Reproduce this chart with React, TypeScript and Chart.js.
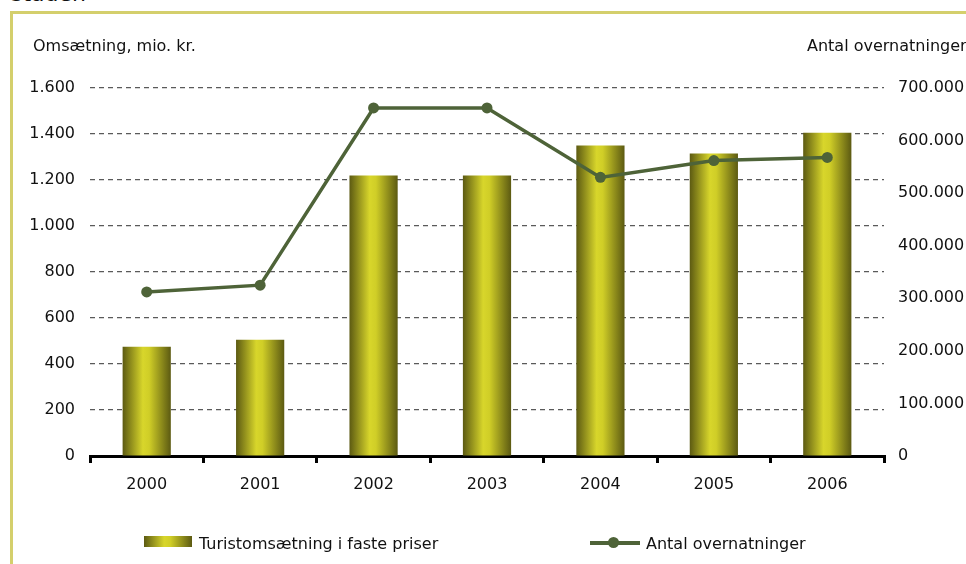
import React, { useEffect, useRef } from "react";
import { Chart, registerables } from "chart.js";

Chart.register(...registerables);

const years = ["2000", "2001", "2002", "2003", "2004", "2005", "2006"];
const turnover = [475, 505, 1220, 1220, 1350, 1315, 1405];
const overnights = [312000, 325000, 662000, 662000, 530000, 562000, 568000];
const leftMax = 1600;
const leftStep = 200;
const rightMax = 700000;
const rightStep = 100000;

const title = "staden";
const leftTitle = "Omsætning, mio. kr.";
const rightTitle = "Antal overnatninger";
const barLabel = "Turistomsætning i faste priser";
const lineLabel = "Antal overnatninger";

const FONT = "'DejaVu Sans', sans-serif";
const LINE_COLOR = "#4e6338";
const DARK = "#5c5a12";
const BRIGHT = "#d8d62b";
const BAR_PCT = 0.425;

const fmt = (v: number) => String(Math.round(v)).replace(/\B(?=(\d{3})+(?!\d))/g, ".");

export default function App() {
  const ref = useRef<HTMLCanvasElement | null>(null);

  useEffect(() => {
    if (!ref.current) return;
    const font = { family: FONT, size: 16 };
    const chart = new Chart(ref.current, {
      data: {
        labels: years,
        datasets: [
          {
            type: "line",
            label: lineLabel,
            data: overnights,
            yAxisID: "y1",
            borderColor: LINE_COLOR,
            backgroundColor: LINE_COLOR,
            borderWidth: 3.5,
            pointRadius: 5.5,
            pointBorderWidth: 0,
            pointBackgroundColor: LINE_COLOR,
            tension: 0,
            order: 0,
          },
          {
            type: "bar",
            label: barLabel,
            data: turnover,
            yAxisID: "y",
            order: 1,
            categoryPercentage: 1,
            barPercentage: BAR_PCT,
            backgroundColor: (ctx: any) => {
              const ch = ctx.chart;
              const xs = ch.scales && ch.scales.x;
              if (!xs || ctx.dataIndex === undefined) return BRIGHT;
              const cx = xs.getPixelForValue(ctx.dataIndex);
              const w = (xs.width / years.length) * BAR_PCT;
              if (!Number.isFinite(cx) || !Number.isFinite(w) || w <= 0) return BRIGHT;
              const g = ch.ctx.createLinearGradient(cx - w / 2, 0, cx + w / 2, 0);
              g.addColorStop(0, DARK);
              g.addColorStop(0.42, BRIGHT);
              g.addColorStop(0.55, "#d0ce27");
              g.addColorStop(1, DARK);
              return g;
            },
          },
        ],
      },
      options: {
        animation: false,
        responsive: false,
        maintainAspectRatio: false,
        layout: { padding: { top: 88, left: 0, right: 0, bottom: 0 } },
        plugins: { legend: { display: false }, tooltip: { enabled: false } },
        scales: {
          x: {
            offset: true,
            grid: {
              offset: true,
              drawOnChartArea: false,
              drawTicks: true,
              tickLength: 7,
              color: "#000",
              lineWidth: 3,
            },
            border: { display: true, color: "#000", width: 3 },
            ticks: { font, color: "#111", padding: 12 },
            afterFit: (s: any) => {
              s.height = 108;
            },
          },
          y: {
            position: "left",
            min: 0,
            max: leftMax,
            ticks: {
              stepSize: leftStep,
              font,
              color: "#111",
              padding: 15,
              callback: (v: any) => fmt(Number(v)),
            },
            grid: {
              drawTicks: false,
              color: (c: any) => (c.tick && c.tick.value === 0 ? "rgba(0,0,0,0)" : "#5a5a5a"),
              lineWidth: 1.2,
            },
            border: { display: false, dash: [5, 4] },
            afterFit: (s: any) => {
              s.width = 90;
            },
          },
          y1: {
            position: "right",
            min: 0,
            max: rightMax,
            ticks: {
              stepSize: rightStep,
              font,
              color: "#111",
              padding: 14,
              callback: (v: any) => fmt(Number(v)),
            },
            grid: { display: false, drawTicks: false, drawOnChartArea: false },
            border: { display: false },
            afterFit: (s: any) => {
              s.width = 82;
            },
          },
        },
      },
    } as any);
    chart.update();
    return () => chart.destroy();
  }, []);

  const textStyle: React.CSSProperties = {
    position: "absolute",
    fontFamily: FONT,
    fontSize: 16,
    color: "#111",
    whiteSpace: "nowrap",
    lineHeight: "20px",
  };

  return (
    <div style={{ position: "absolute", left: 0, top: 0, width: 966, height: 564, overflow: "hidden", background: "#fff" }}>
      <div style={{ ...textStyle, left: 11, top: -19, fontSize: 22, lineHeight: "26px" }}>{title}</div>
      <div style={{ position: "absolute", left: 10, top: 11, width: 960, height: 3, background: "#d4cf6c" }} />
      <div style={{ position: "absolute", left: 10, top: 11, width: 3, height: 560, background: "#d4cf6c" }} />
      <canvas ref={ref} width={966} height={564} style={{ position: "absolute", left: 0, top: 0, width: 966, height: 564 }} />
      <div style={{ ...textStyle, left: 33, top: 36 }}>{leftTitle}</div>
      <div style={{ ...textStyle, left: 807, top: 36 }}>{rightTitle}</div>
      <div
        style={{
          position: "absolute",
          left: 144,
          top: 536,
          width: 48,
          height: 11,
          background: `linear-gradient(to right, ${DARK} 0%, ${BRIGHT} 42%, #d0ce27 55%, ${DARK} 100%)`,
        }}
      />
      <div style={{ ...textStyle, left: 199, top: 534 }}>{barLabel}</div>
      <div style={{ position: "absolute", left: 590, top: 541, width: 50, height: 3.5, background: LINE_COLOR }} />
      <div style={{ position: "absolute", left: 607.5, top: 537, width: 11, height: 11, borderRadius: "50%", background: LINE_COLOR }} />
      <div style={{ ...textStyle, left: 646, top: 534 }}>{lineLabel}</div>
    </div>
  );
}
